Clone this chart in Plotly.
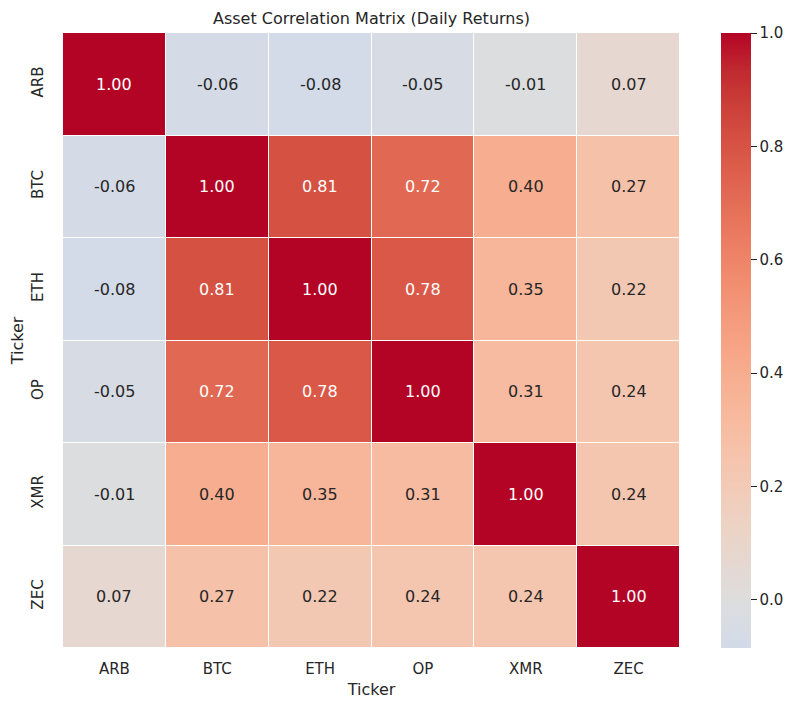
import plotly.graph_objects as go

tickers = ["ARB", "BTC", "ETH", "OP", "XMR", "ZEC"]
corr = [
    [1.00, -0.06, -0.08, -0.05, -0.01, 0.07],
    [-0.06, 1.00, 0.81, 0.72, 0.40, 0.27],
    [-0.08, 0.81, 1.00, 0.78, 0.35, 0.22],
    [-0.05, 0.72, 0.78, 1.00, 0.31, 0.24],
    [-0.01, 0.40, 0.35, 0.31, 1.00, 0.24],
    [0.07, 0.27, 0.22, 0.24, 0.24, 1.00],
]
cbar_ticks = [0.0, 0.2, 0.4, 0.6, 0.8, 1.0]

# matplotlib coolwarm anchor table
cw = [
    (0, 59, 76, 192), (0.03125, 68, 90, 204), (0.0625, 77, 104, 215), (0.09375, 87, 117, 225),
    (0.125, 98, 130, 234), (0.15625, 108, 142, 241), (0.1875, 119, 154, 247), (0.21875, 130, 165, 251),
    (0.25, 141, 176, 254), (0.28125, 152, 185, 255), (0.3125, 163, 194, 255), (0.34375, 174, 201, 253),
    (0.375, 184, 208, 249), (0.40625, 194, 213, 244), (0.4375, 204, 217, 238), (0.46875, 213, 219, 230),
    (0.5, 221, 221, 221), (0.53125, 229, 216, 209), (0.5625, 236, 211, 197), (0.59375, 241, 204, 185),
    (0.625, 245, 196, 173), (0.65625, 247, 187, 160), (0.6875, 247, 177, 148), (0.71875, 247, 166, 135),
    (0.75, 244, 154, 123), (0.78125, 241, 141, 111), (0.8125, 236, 127, 99), (0.84375, 229, 112, 88),
    (0.875, 222, 96, 77), (0.90625, 213, 80, 66), (0.9375, 203, 62, 56), (0.96875, 192, 40, 47),
    (1, 180, 4, 38),
]


def cw_at(p):
    for i in range(len(cw) - 1):
        a, b = cw[i], cw[i + 1]
        if a[0] <= p <= b[0]:
            f = (p - a[0]) / (b[0] - a[0])
            return tuple(a[k] + f * (b[k] - a[k]) for k in (1, 2, 3))
    return cw[-1][1:]


zmin, zmax, center = -0.085, 1.0, 0.0
vrange = max(zmax - center, center - zmin)
lo = (zmin - (center - vrange)) / (2 * vrange)
hi = (zmax - (center - vrange)) / (2 * vrange)
positions = [lo] + [c[0] for c in cw if lo < c[0] < hi] + [hi]
colorscale = []
for p in positions:
    r, g, b = cw_at(p)
    colorscale.append([(p - lo) / (hi - lo), f"rgb({r:.0f},{g:.0f},{b:.0f})"])

# page body has an 8px offset
OFF = 8
W, H = 798, 710
ML, MT = 63 - OFF, 33 - OFF
PR, PB = 680 - OFF, 648 - OFF
MR, MB = W - PR, H - PB
plot_w = W - ML - MR

fig = go.Figure()
fig.add_trace(go.Heatmap(
    z=corr, x=tickers, y=tickers,
    zmin=zmin, zmax=zmax, colorscale=colorscale,
    xgap=1, ygap=1,
    colorbar=dict(
        thickness=30, thicknessmode="pixels", len=1.0, lenmode="fraction",
        y=0.5, yanchor="middle", ypad=0,
        x=(721 - OFF - ML) / plot_w, xanchor="left", xpad=0,
        outlinewidth=0, tickvals=cbar_ticks, ticktext=[f"{t:.1f}" for t in cbar_ticks],
        ticks="outside", ticklen=6, tickwidth=1.2, tickcolor="#262626",
        tickfont=dict(size=15, color="#262626"),
    ),
    hoverinfo="skip",
))

for i, row in enumerate(corr):
    for j, v in enumerate(row):
        fig.add_annotation(
            x=tickers[j], y=tickers[i], text=f"{v:.2f}", showarrow=False,
            font=dict(size=16, color="white" if v > 0.6 else "#262626"),
        )

fig.update_layout(
    width=W, height=H,
    margin=dict(l=ML, r=MR, t=MT, b=MB, autoexpand=False),
    plot_bgcolor="white", paper_bgcolor="white",
    font=dict(family="DejaVu Sans", color="#262626"),
    title=dict(text="Asset Correlation Matrix (Daily Returns)", x=(ML + plot_w / 2) / W, xanchor="center",
               xref="container", y=1 - (18 - OFF) / H, yanchor="middle", yref="container",
               font=dict(size=16, color="#262626")),
    xaxis=dict(title=dict(text="Ticker", font=dict(size=16), standoff=6), tickfont=dict(size=15),
               showgrid=False, zeroline=False, ticks="", automargin=False, domain=[0, 1],
               ticklabelstandoff=10),
    yaxis=dict(title=dict(text="Ticker", font=dict(size=16), standoff=6), tickfont=dict(size=15),
               showgrid=False, zeroline=False, ticks="", autorange="reversed", tickangle=-90,
               automargin=False, domain=[0, 1], ticklabelstandoff=16),
)

fig.write_html("out.html")
